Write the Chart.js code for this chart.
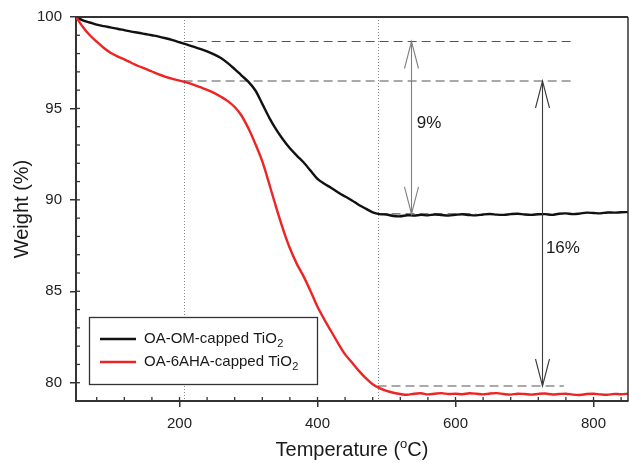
<!DOCTYPE html>
<html lang="en">
<head>
<meta charset="UTF-8">
<title>TGA of capped TiO2</title>
<script src="https://cdn.jsdelivr.net/npm/chart.js"></script>
<style>
  body { margin: 0; background: #fff; }
  #wrap { width: 629px; height: 464px; }
</style>
</head>
<body>
<div id="wrap"><canvas id="tga" width="629" height="464"></canvas></div>
<script>
// temperatures (°C)
const temps = [50, 60, 70, 80, 90, 100, 110, 120, 130, 140, 150, 160, 170, 180, 190, 200,
  210, 220, 230, 240, 250, 260, 270, 280, 290, 300, 310, 320, 330, 340, 350, 360, 370, 380,
  390, 400, 410, 420, 430, 440, 450, 460, 470, 480, 490, 500, 510, 520, 530, 540, 550, 560,
  570, 580, 590, 600, 610, 620, 630, 640, 650, 660, 670, 680, 690, 700, 710, 720, 730, 740,
  750, 760, 770, 780, 790, 800, 810, 820, 830, 840, 850];

// weight (%) of OA-OM capped TiO2
const omWeight = [100.00, 99.82, 99.70, 99.58, 99.50, 99.43, 99.36, 99.28, 99.20, 99.14,
  99.07, 99.00, 98.93, 98.84, 98.74, 98.62, 98.50, 98.38, 98.26, 98.12, 97.96, 97.76, 97.48,
  97.15, 96.80, 96.45, 95.98, 95.25, 94.50, 93.85, 93.30, 92.82, 92.42, 92.04, 91.60, 91.15,
  90.88, 90.65, 90.40, 90.18, 89.97, 89.72, 89.52, 89.32, 89.22, 89.20, 89.12, 89.10, 89.16,
  89.14, 89.18, 89.15, 89.20, 89.17, 89.14, 89.18, 89.21, 89.17, 89.15, 89.20, 89.23, 89.19,
  89.18, 89.22, 89.24, 89.20, 89.18, 89.21, 89.22, 89.18, 89.24, 89.26, 89.22, 89.25, 89.30,
  89.28, 89.26, 89.31, 89.30, 89.32, 89.33];

// weight (%) of OA-6AHA capped TiO2
const ahaWeight = [100.00, 99.45, 99.00, 98.65, 98.32, 98.05, 97.85, 97.68, 97.50, 97.32,
  97.18, 97.02, 96.86, 96.73, 96.62, 96.52, 96.42, 96.30, 96.16, 96.02, 95.85, 95.64, 95.40,
  95.08, 94.60, 93.90, 93.05, 92.10, 90.88, 89.60, 88.40, 87.35, 86.50, 85.80, 85.00, 84.15,
  83.45, 82.80, 82.15, 81.55, 81.10, 80.65, 80.25, 79.92, 79.70, 79.55, 79.45, 79.38, 79.34,
  79.40, 79.42, 79.36, 79.40, 79.43, 79.38, 79.40, 79.37, 79.42, 79.40, 79.36, 79.41, 79.43,
  79.38, 79.35, 79.40, 79.38, 79.35, 79.39, 79.41, 79.36, 79.38, 79.40, 79.35, 79.33, 79.38,
  79.40, 79.36, 79.34, 79.39, 79.37, 79.40];

const seriesNames = ['OA-OM-capped TiO\u2082', 'OA-6AHA-capped TiO\u2082'];
const seriesColors = ['#111111', '#ee2424'];
const xTicks = [200, 400, 600, 800];
const yTicks = [80, 85, 90, 95, 100];

// annotation values
const markerTemps = [206, 487];
const guideLevels = [98.66, 96.5, 89.23, 79.82];
const guideFrom = [206, 206, 487, 487];
const guideTo = [770, 771, 630, 757];
const arrowTemps = [536, 725];
const arrowTop = [98.66, 96.5];
const arrowBottom = [89.23, 79.82];
const arrowColors = ['#808080', '#3a3a3a'];
const arrowLabels = ['9%', '16%'];
const labelTemps = [544, 731];
const labelWeights = [94.2, 87.36];

const FONT = '"Liberation Sans", Arial, sans-serif';

function head(ctx, px, py, dir) {
    // open V head, dir -1 points up, +1 points down
    ctx.beginPath();
    ctx.moveTo(px - 7, py - dir * 27);
    ctx.lineTo(px, py);
    ctx.lineTo(px + 7, py - dir * 27);
    ctx.stroke();
}

// draws a label, turning a trailing subscript digit into a real lowered one
function subText(ctx, txt, x, y) {
    const subs = '\u2080\u2081\u2082\u2083\u2084\u2085\u2086\u2087\u2088\u2089';
    const last = txt.slice(-1);
    const k = subs.indexOf(last);
    if (k < 0) { ctx.fillText(txt, x, y); return; }
    const main = txt.slice(0, -1);
    ctx.font = '15px ' + FONT;
    ctx.fillText(main, x, y);
    const w = ctx.measureText(main).width;
    ctx.font = '11px ' + FONT;
    ctx.fillText(String(k), x + w + 0.5, y + 5);
    ctx.font = '15px ' + FONT;
}

const decor = {
    id: 'decor',
    beforeDatasetsDraw(chart) {
        const { ctx, chartArea: a, scales: { x } } = chart;
        ctx.save();
        ctx.strokeStyle = '#888';
        ctx.lineWidth = 1;
        ctx.setLineDash([1, 2]);
        markerTemps.forEach(t => {
            const px = Math.round(x.getPixelForValue(t)) + 0.5;
            ctx.beginPath();
            ctx.moveTo(px, a.top);
            ctx.lineTo(px, a.bottom);
            ctx.stroke();
        });
        ctx.restore();
    },
    afterDatasetsDraw(chart) {
        const { ctx, scales: { x, y } } = chart;
        ctx.save();
        ctx.lineWidth = 1.1;
        arrowTemps.forEach((t, i) => {
            const px = Math.round(x.getPixelForValue(t)) + 0.5;
            const top = y.getPixelForValue(arrowTop[i]);
            const bot = y.getPixelForValue(arrowBottom[i]);
            ctx.strokeStyle = arrowColors[i];
            ctx.beginPath();
            ctx.moveTo(px, top);
            ctx.lineTo(px, bot);
            ctx.stroke();
            head(ctx, px, top, -1);
            head(ctx, px, bot, 1);
        });
        ctx.fillStyle = '#1a1a1a';
        ctx.font = '17px ' + FONT;
        ctx.textBaseline = 'middle';
        ctx.textAlign = 'left';
        arrowLabels.forEach((txt, i) => {
            ctx.fillText(txt, x.getPixelForValue(labelTemps[i]), y.getPixelForValue(labelWeights[i]));
        });
        ctx.restore();
    },
    afterDraw(chart) {
        const { ctx, chartArea: a, scales: { x, y } } = chart;
        ctx.save();
        // top and right frame
        ctx.strokeStyle = '#333';
        ctx.lineWidth = 2;
        ctx.beginPath();
        ctx.moveTo(a.left, a.top);
        ctx.lineTo(a.right, a.top);
        ctx.stroke();
        ctx.lineWidth = 1.5;
        ctx.beginPath();
        ctx.moveTo(a.right, a.top);
        ctx.lineTo(a.right, a.bottom);
        ctx.stroke();

        // minor ticks pointing inward
        ctx.lineWidth = 1.3;
        for (let t = 80; t < 850; t += 40) {
            const px = x.getPixelForValue(t);
            ctx.beginPath();
            ctx.moveTo(px, a.bottom);
            ctx.lineTo(px, a.bottom - 4);
            ctx.stroke();
        }
        for (let v = 80; v < 100; v += 1) {
            const py = y.getPixelForValue(v);
            ctx.beginPath();
            ctx.moveTo(a.left, py);
            ctx.lineTo(a.left + 4, py);
            ctx.stroke();
        }

        // axis titles
        ctx.fillStyle = '#1a1a1a';
        ctx.textBaseline = 'alphabetic';
        ctx.font = '20px ' + FONT;
        const left = 'Temperature (', sup = 'o', right = 'C)';
        const supFont = '13px ' + FONT;
        const wl = ctx.measureText(left).width;
        const wr = ctx.measureText(right).width;
        ctx.font = supFont;
        const ws = ctx.measureText(sup).width;
        let sx = (a.left + a.right) / 2 - (wl + ws + wr) / 2;
        const base = 456;
        ctx.font = '20px ' + FONT;
        ctx.textAlign = 'left';
        ctx.fillText(left, sx, base);
        ctx.font = supFont;
        ctx.fillText(sup, sx + wl, base - 8);
        ctx.font = '20px ' + FONT;
        ctx.fillText(right, sx + wl + ws, base);

        ctx.save();
        ctx.translate(28, (a.top + a.bottom) / 2);
        ctx.rotate(-Math.PI / 2);
        ctx.textAlign = 'center';
        ctx.fillText('Weight (%)', 0, 0);
        ctx.restore();

        // legend box
        const bx = 89, by = 317, bw = 228, bh = 67;
        ctx.fillStyle = '#fff';
        ctx.fillRect(bx, by, bw, bh);
        ctx.strokeStyle = '#333';
        ctx.lineWidth = 1.3;
        ctx.strokeRect(bx + 0.5, by + 0.5, bw, bh);
        ctx.font = '15px ' + FONT;
        ctx.textBaseline = 'middle';
        chart.data.datasets.slice(0, 2).forEach((ds, i) => {
            const ly = 339 + i * 23;
            ctx.strokeStyle = ds.borderColor;
            ctx.lineWidth = 2.5;
            ctx.beginPath();
            ctx.moveTo(100, ly);
            ctx.lineTo(136, ly);
            ctx.stroke();
            ctx.fillStyle = '#1a1a1a';
            subText(ctx, ds.label, 144, ly);
        });
        ctx.restore();
    }
};

const curves = [omWeight, ahaWeight].map((w, i) => ({
    label: seriesNames[i],
    data: temps.map((t, j) => ({ x: t, y: w[j] })),
    borderColor: seriesColors[i],
    borderWidth: 2.4,
    pointRadius: 0,
    tension: 0.3,
    order: i === 0 ? 1 : 0
}));

const guides = guideLevels.map((lvl, i) => ({
    label: 'guide ' + i,
    data: [{ x: guideFrom[i], y: lvl }, { x: guideTo[i], y: lvl }],
    borderColor: '#555',
    borderWidth: 1.2,
    borderDash: [9, 5],
    pointRadius: 0,
    order: 2
}));

new Chart(document.getElementById('tga'), {
    type: 'line',
    data: { datasets: curves.concat(guides) },
    options: {
        responsive: false,
        animation: false,
        devicePixelRatio: 1,
        layout: { padding: { top: 15, right: 1, left: 0, bottom: 0 } },
        plugins: { legend: { display: false }, tooltip: { enabled: false } },
        scales: {
            x: {
                type: 'linear', min: 50, max: 850,
                afterBuildTicks: s => { s.ticks = xTicks.map(v => ({ value: v })); },
                afterFit: s => { s.height = 63; },
                grid: { drawOnChartArea: false, tickLength: 6, color: '#333', lineWidth: 1.5 },
                border: { color: '#333', width: 2 },
                ticks: { autoSkip: false, maxRotation: 0, padding: 8, color: '#222', font: { family: FONT, size: 15 } }
            },
            y: {
                type: 'linear', min: 79, max: 100,
                afterBuildTicks: s => { s.ticks = yTicks.map(v => ({ value: v })); },
                afterFit: s => { s.width = 76; },
                grid: { drawOnChartArea: false, tickLength: 6, color: '#333', lineWidth: 1.5 },
                border: { color: '#333', width: 2 },
                ticks: { autoSkip: false, padding: 8, color: '#222', font: { family: FONT, size: 15 } }
            }
        }
    },
    plugins: [decor]
});
</script>
</body>
</html>
